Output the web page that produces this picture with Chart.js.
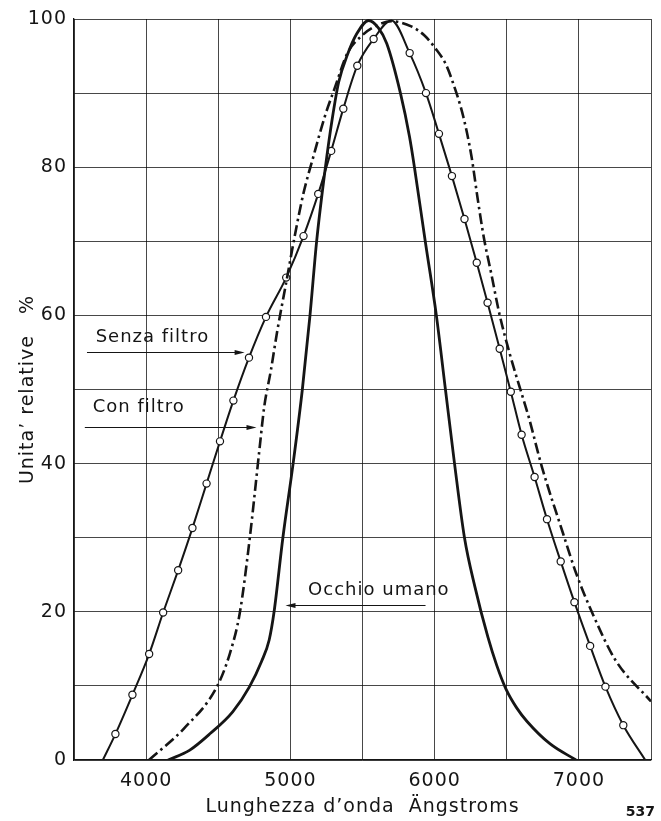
<!DOCTYPE html>
<html><head><meta charset="utf-8">
<script src="https://cdn.jsdelivr.net/npm/chart.js@4.4.0/dist/chart.umd.min.js"></script>
<style>html,body{margin:0;padding:0;background:#fff;}canvas{display:block;}</style>
</head><body>
<canvas id="c" width="661" height="821"></canvas>
<script>
// ---- data ----
const xTickLabels = [4000, 5000, 6000, 7000];
const yTickLabels = [0, 20, 40, 60, 80, 100];

// "Senza filtro" (solid with open circles)
const senzaX = [3700,3787,3905,4021,4118,4222,4321,4419,4512,4605,4713,4831,4971,5091,5193,5283,5367,5464,5577,5700,5827,5940,6030,6120,6207,6292,6367,6451,6528,6603,6693,6779,6874,6969,7078,7184,7308,7460];
const senzaY = [0,3.5,8.8,14.3,19.9,25.6,31.3,37.3,43.0,48.5,54.3,59.8,65.1,70.7,76.4,82.2,87.9,93.7,97.3,99.8,95.4,90.0,84.5,78.8,73.0,67.1,61.7,55.5,49.7,43.9,38.2,32.5,26.8,21.3,15.4,9.9,4.7,0];
const senzaMarker = [0,1,1,1,1,1,1,1,1,1,1,1,1,1,1,1,1,1,1,0,1,1,1,1,1,1,1,1,1,1,1,1,1,1,1,1,1,0];

// "Con filtro" (dash-dot)
const conX = [4020,4265,4491,4581,4649,4717,4785,4819,4865,4910,4966,5034,5091,5159,5238,5306,5396,5498,5577,5700,5838,5928,6007,6075,6120,6199,6256,6298,6342,6392,6448,6521,6596,6652,6743,6890,6981,7094,7253,7500];
const conY = [0,4.3,9.9,14.4,19.8,29.7,41.8,47.7,52.6,58.0,63.9,71.1,76.5,81.4,86.8,90.6,95.4,97.8,98.9,99.7,99.0,97.8,96.0,94.0,91.8,86.8,81.4,75.8,70.4,65.7,60.3,54.8,49.9,46.3,39.6,30.6,25.2,19.8,13.5,7.9];

// "Occhio umano" (thick solid)
const occX = [4152,4300,4446,4600,4717,4800,4853,4887,4948,5019,5083,5136,5182,5243,5290,5335,5396,5460,5543,5610,5668,5763,5826,5860,5935,6012,6075,6138,6207,6279,6369,6430,6494,6570,6641,6799,6980];
const occY = [0,1.3,3.6,6.5,9.9,13.3,16.2,20.0,30.0,40.0,50.0,60.0,70.0,80.0,86.5,91.5,95.2,98.0,99.8,98.8,96.7,90.0,84.1,80.0,70.0,60.0,50.0,40.0,30.0,23.4,16.6,12.8,9.6,7.0,5.2,2.2,0];

const pts = (xs, ys) => xs.map((x, i) => ({x, y: ys[i]}));

const FONT = "'DejaVu Sans', sans-serif";
const INK = '#151515';

const annotations = [
  {text: 'Senza filtro', tx: 3650, ty: 57.1, y: 55.1, from: 3590, to: 4683},
  {text: 'Con filtro',   tx: 3630, ty: 47.6, y: 44.9, from: 3575, to: 4765},
  {text: 'Occhio umano', tx: 5123, ty: 22.9, y: 20.9, from: 5937, to: 4966}
];

const textPlugin = {
  id: 'textPlugin',
  beforeDraw(chart) { chart.ctx.letterSpacing = '1px'; },
  afterDatasetsDraw(chart) {
    const {ctx, scales: {x, y}} = chart;
    ctx.save();
    ctx.letterSpacing = '1px';
    ctx.fillStyle = INK; ctx.strokeStyle = INK;
    ctx.font = "18px " + FONT;
    ctx.textBaseline = 'middle'; ctx.textAlign = 'left';
    annotations.forEach(a => {
      ctx.fillText(a.text, x.getPixelForValue(a.tx), y.getPixelForValue(a.ty));
      const py = Math.round(y.getPixelForValue(a.y)) + 0.5;
      const x0 = x.getPixelForValue(a.from), x1 = x.getPixelForValue(a.to);
      const dir = Math.sign(x1 - x0);
      ctx.lineWidth = 1.2;
      ctx.beginPath(); ctx.moveTo(x0, py); ctx.lineTo(x1 - dir * 6, py); ctx.stroke();
      ctx.beginPath(); ctx.moveTo(x1, py); ctx.lineTo(x1 - dir * 10, py - 2.5); ctx.lineTo(x1 - dir * 10, py + 2.5); ctx.closePath(); ctx.fill();
    });
    ctx.font = "bold 14px " + FONT;
    ctx.letterSpacing = '0px';
    ctx.textAlign = 'right';
    ctx.fillText('537', chart.width - 6, 812);
    ctx.restore();
  }
};

new Chart(document.getElementById('c'), {
  type: 'line',
  data: {
    datasets: [
      {label: 'Occhio umano', data: pts(occX, occY), borderColor: INK, borderWidth: 2.8, pointRadius: 0, cubicInterpolationMode: 'monotone', fill: false},
      {label: 'Con filtro', data: pts(conX, conY), borderColor: INK, borderWidth: 2.6, borderDash: [11, 4, 2.5, 4], pointRadius: 0, cubicInterpolationMode: 'monotone', fill: false},
      {label: 'Senza filtro', data: pts(senzaX, senzaY), borderColor: INK, borderWidth: 2,
        pointRadius: senzaMarker.map(m => m ? 3.6 : 0), pointBackgroundColor: '#fff', pointBorderColor: INK, pointBorderWidth: 1.2,
        cubicInterpolationMode: 'monotone', fill: false}
    ]
  },
  options: {
    responsive: false, animation: false, devicePixelRatio: 1,
    layout: {padding: {top: 19, right: 1, left: 0, bottom: 0}},
    plugins: {legend: {display: false}, tooltip: {enabled: false}},
    scales: {
      x: {
        type: 'linear', min: 3500, max: 7500,
        afterFit(s) { s.height = 61; },
        ticks: {stepSize: 500, autoSkip: false, maxRotation: 0, padding: 10, color: INK,
          font: {family: FONT, size: 19, lineHeight: 1.2},
          callback: v => xTickLabels.includes(v) ? String(v) : ''},
        grid: {color: 'rgba(0,0,0,0.72)', lineWidth: 1, drawTicks: false},
        border: {color: INK, width: 1.3},
        title: {display: true, text: 'Lunghezza d’onda  Ängstroms', color: INK,
          font: {family: FONT, size: 19, lineHeight: 1.2}, padding: {top: 0, bottom: 3}}
      },
      y: {
        min: 0, max: 100,
        afterFit(s) { s.width = 74; },
        ticks: {stepSize: 10, autoSkip: false, padding: 7, color: INK,
          font: {family: FONT, size: 19, lineHeight: 1.2},
          callback: v => yTickLabels.includes(v) ? String(v) : ''},
        grid: {color: 'rgba(0,0,0,0.72)', lineWidth: 1, drawTicks: false},
        border: {color: INK, width: 1.3},
        title: {display: true, text: 'Unita’ relative   %', color: INK,
          font: {family: FONT, size: 19, lineHeight: 1.2}, padding: {top: 17, bottom: 0}}
      }
    }
  },
  plugins: [textPlugin]
});
</script>
</body></html>
